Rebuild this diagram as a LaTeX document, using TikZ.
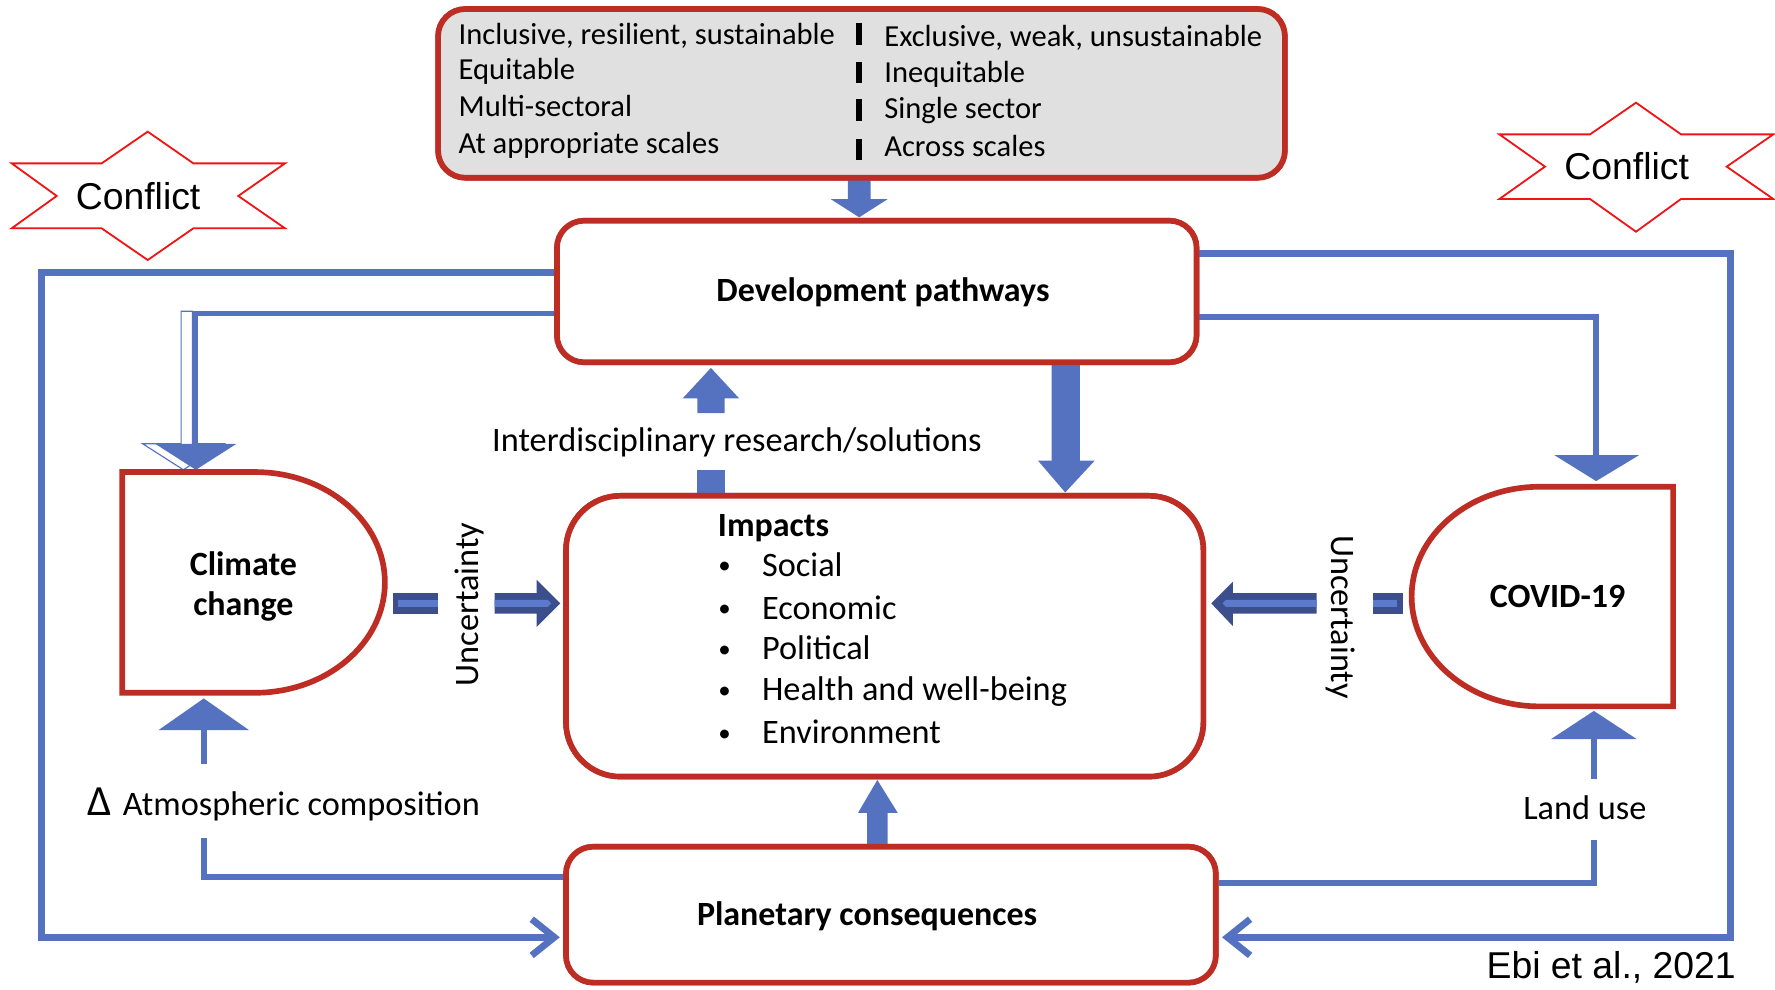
\documentclass[tikz,border=0pt]{standalone}
\usepackage{fontspec}
\setmainfont{Carlito}
\newfontfamily\arialf{Liberation Sans}
\usetikzlibrary{arrows.meta}
\definecolor{redb}{RGB}{190,45,35}
\definecolor{blu}{RGB}{84,114,192}
\definecolor{dblu}{RGB}{60,78,140}
\definecolor{lblu}{RGB}{92,122,204}
\definecolor{gryf}{RGB}{224,224,224}
\definecolor{starred}{RGB}{240,20,20}
\begin{document}
\begin{tikzpicture}[x=1pt,y=-1pt,
  box/.style={draw=redb,line width=5pt,rounded corners=24pt,inner sep=0pt,fill=white},
  shp/.style={draw=redb,line width=5pt,fill=white},
  txt/.style={inner sep=0pt,anchor=base,font=\fontsize{30.3pt}{35pt}\selectfont},
  txts/.style={inner sep=0pt,anchor=base west,font=\fontsize{27pt}{32pt}\selectfont},
  bld/.style={inner sep=0pt,anchor=base,font=\fontsize{30pt}{35pt}\selectfont\bfseries},
  arl/.style={inner sep=0pt,anchor=base,font=\fontsize{33pt}{38pt}\selectfont\arialf},
  conn/.style={draw=blu,line width=5pt},
  loopline/.style={draw=blu,line width=6pt,-{Straight Barb[length=20pt,width=32pt]}},
  blk/.style={fill=blu},
  star/.style={draw=starred,line width=1.6pt,fill=white},
  bar/.style={fill=black,inner sep=0pt,minimum width=5.5pt,minimum height=19pt}
]
\useasboundingbox (0,0) rectangle (1568,874);

% ---------- nodes (boxes) ----------
\node[box,fill=gryf,minimum width=748pt,minimum height=149pt] (top) at (761,82.5) {};
\node[box,minimum width=565pt,minimum height=125pt] (dev) at (774.5,257.5) {};
\node[box,rounded corners=48pt,minimum width=563pt,minimum height=248pt] (imp) at (781.5,562) {};
\node[box,minimum width=574pt,minimum height=120pt] (pla) at (787,808) {};

% ---------- connectors ----------
% outer loops
\coordinate (oL1) at (37,241);
\coordinate (oL2) at (37,828);
\coordinate (oR1) at (1529,224);
\coordinate (oR2) at (1529,828);
\draw[loopline] (dev.west |- oL1) -- (oL1) -- (oL2) -- ([xshift=-3pt]pla.west |- oL2);
\draw[loopline] (dev.east |- oR1) -- (oR1) -- (oR2) -- ([xshift=3pt]pla.east |- oR2);

% development -> climate change (with ghost outline)
\coordinate (c1) at (172,277);
\coordinate (c2) at (172,392);
\coordinate (c3) at (173,415);
\draw[blu,line width=1pt,fill=white] (160,275) -- (170,275) -- (170,392) -- (198,392) -- (162,415) -- (126,392) -- (160,392) -- cycle;
\draw[conn] (dev.west |- c1) -- (c1) -- (c2);
\fill[blk] (137,392) -- (209,392) -- (c3) -- cycle;

% development -> covid
\coordinate (v1) at (1410,280);
\coordinate (v2) at (1410,402);
\coordinate (v3) at (1410,425);
\draw[conn] (dev.east |- v1) -- (v1) -- (v2);
\fill[blk] (1373,402) -- (1448,402) -- (v3) -- cycle;

% planetary -> climate change
\coordinate (a1) at (180,775);
\coordinate (a2) at (180,740);
\coordinate (a3) at (180,675);
\coordinate (a4) at (180,645);
\coordinate (a5) at (180,617);
\draw[conn] (pla.west |- a1) -- (a1) -- (a2);
\draw[conn] (a3) -- (a4);
\fill[blk] (140,645) -- (220,645) -- (a5) -- cycle;

% planetary -> covid
\coordinate (l1) at (1408,780);
\coordinate (l2) at (1408,742);
\coordinate (l3) at (1408,688);
\coordinate (l4) at (1408,653);
\coordinate (l5) at (1408,628);
\draw[conn] (pla.east |- l1) -- (l1) -- (l2);
\draw[conn] (l3) -- (l4);
\fill[blk] (1370,653) -- (1446,653) -- (l5) -- cycle;

% block arrows
\fill[blk] (749,157) -- (769,157) -- (769,176) -- (784,176) -- (759,192) -- (734,176) -- (749,176) -- cycle;
\fill[blk] (616,365) -- (616,352) -- (603,352) -- (628,325) -- (653,352) -- (640,352) -- (640,365) -- cycle;
\fill[blk] (616,415) rectangle (640,438);
\fill[blk] (929,320) -- (954,320) -- (954,407) -- (967,407) -- (941,435) -- (917,407) -- (929,407) -- cycle;
\fill[blk] (766,748) -- (766,718) -- (758,718) -- (775,689) -- (793,718) -- (784,718) -- (784,748) -- cycle;

% uncertainty arrows (left)
\fill[dblu] (347,524) rectangle (387,542);
\fill[lblu] (352,530) rectangle (387,536);
\fill[dblu] (437,524) -- (474,524) -- (474,512) -- (495,533) -- (474,554) -- (474,542) -- (437,542) -- cycle;
\fill[lblu] (437,530) -- (484,530) -- (487,533) -- (484,536) -- (437,536) -- cycle;
% uncertainty arrows (right)
\fill[dblu] (1213,524) rectangle (1239,542);
\fill[lblu] (1213,530) rectangle (1234,536);
\fill[dblu] (1163,524) -- (1089,524) -- (1089,514) -- (1070,533) -- (1089,553) -- (1089,542) -- (1163,542) -- cycle;
\fill[lblu] (1163,530) -- (1083,530) -- (1080,533) -- (1083,536) -- (1163,536) -- cycle;

% redraw boxes on top of connector ends
\node[box,fill=gryf,minimum width=748pt,minimum height=149pt] at (761,82.5) {};
\node[box,minimum width=565pt,minimum height=125pt] at (774.5,257.5) {};
\node[box,rounded corners=48pt,minimum width=563pt,minimum height=248pt] at (781.5,562) {};
\node[box,minimum width=574pt,minimum height=120pt] at (787,808) {};

% D shapes
\draw[shp] (108,417) -- (225,417) arc[start angle=-90,end angle=90,x radius=115,y radius=97.5] -- (108,612) -- cycle;
\draw[shp] (1478,430) -- (1360,430) arc[start angle=-90,end angle=-270,x radius=113,y radius=97] -- (1478,624) -- cycle;

% conflict stars
\draw[star] (10.3,144.3) -- (89.8,144.3) -- (130.5,116.3) -- (170.8,144.3) -- (251.8,144.3) -- (210.5,173.1) -- (251.8,201.7) -- (170.8,201.7) -- (130.5,229.7) -- (89.8,201.7) -- (10.3,201.7) -- (50.1,173.1) -- cycle;
\draw[star] (1324.5,118.7) -- (1404.6,118.7) -- (1445.2,90.7) -- (1485,118.7) -- (1566.5,118.7) -- (1525.3,147.2) -- (1566.5,175.8) -- (1485,175.8) -- (1445.2,204.7) -- (1404.6,175.8) -- (1324.5,175.8) -- (1364.8,147.2) -- cycle;

% ---------- texts ----------
\node[arl] (cf1) at (122,185) {Conflict};
\node[arl] (cf2) at (1437,159) {Conflict};

\node[txts] (t1) at (405,39) {Inclusive, resilient, sustainable};
\node[txts] (t2) at (405,70.5) {Equitable};
\node[txts] (t3) at (405,102.5) {Multi-sectoral};
\node[txts] (t4) at (405,136) {At appropriate scales};
\node[txts] (u1) at (781,41) {Exclusive, weak, unsustainable};
\node[txts] (u2) at (781,73) {Inequitable};
\node[txts] (u3) at (781,105) {Single sector};
\node[txts] (u4) at (781,138.5) {Across scales};
\node[bar] (b1) at (759,30) {};
\node[bar] (b2) at (759,64) {};
\node[bar] (b3) at (759,97) {};
\node[bar] (b4) at (759,132) {};

\node[bld] (devt) at (780,266) {Development pathways};
\node[txt] (inter) at (651,399) {Interdisciplinary research/solutions};

\node[bld,align=center,anchor=center] (cct) at (215,518) {Climate\\change};
\node[bld] (cvt) at (1376,537) {COVID-19};

\node[txt,rotate=90] (unc1) at (423,534) {Uncertainty};
\node[txt,rotate=-90] (unc2) at (1176,545) {Uncertainty};

\node[bld,anchor=base west] (impt) at (634,474) {Impacts};
\foreach \yy/\tt [count=\i] in {509/Social,547/Economic,583/Political,619/Health and well-being,657/Environment}{
  \node[txt,font=\fontsize{22pt}{26pt}\selectfont] (bul\i) at (640,\yy-2) {•};
  \node[txt,anchor=base west] (it\i) at (673,\yy) {\tt};
}

\node[txt,anchor=base west] (atm) at (77,720) {{\fontsize{38pt}{38pt}\selectfont Δ}\hspace{10pt}Atmospheric composition};
\node[txt] (land) at (1400,724) {Land use};
\node[bld] (plat) at (766,818) {Planetary consequences};
\node[arl,anchor=base west] (ebi) at (1313,864) {Ebi et al., 2021};
\end{tikzpicture}
\end{document}
